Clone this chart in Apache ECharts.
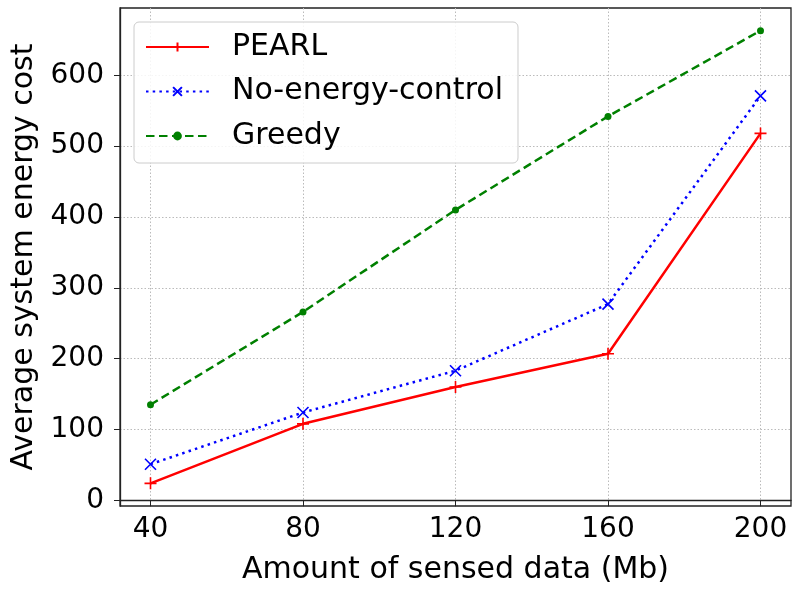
<!DOCTYPE html>
<html><head><meta charset="utf-8">
<script src="https://cdn.jsdelivr.net/npm/echarts@6/dist/echarts.min.js"></script>
<style>html,body{margin:0;padding:0;background:#fff}#c{width:794px;height:591px}</style>
</head><body><div id="c"></div>
<script>
const xValues = [40, 80, 120, 160, 200];
const pearl = [24, 108, 160, 207, 518];
const noEnergyControl = [51, 124, 183, 277, 571];
const greedy = [135, 266, 410, 542, 663];
const xTicks = [40, 80, 120, 160, 200];
const yTicks = [0, 100, 200, 300, 400, 500, 600];

const font = 'DejaVu Sans';
const chart = echarts.init(document.getElementById('c'), null, {renderer: 'canvas'});
const pairs = arr => xValues.map((x, i) => [x, arr[i]]);
chart.setOption({
  animation: false,
  backgroundColor: '#fff',
  grid: {left: 120, right: 3, top: 8, bottom: 85, show: true, borderColor: '#222', borderWidth: 1.3, backgroundColor: 'transparent'},
  legend: {
    left: 134, top: 22, orient: 'vertical',
    itemWidth: 63, itemHeight: 11, itemGap: 14.5,
    padding: [10, 15, 12, 11],
    backgroundColor: 'rgba(255,255,255,0.85)', borderColor: '#cccccc', borderWidth: 1, borderRadius: 5,
    textStyle: {fontFamily: font, fontSize: 30, lineHeight: 30, color: '#000', padding: [0, 0, 0, 18]},
    data: ['PEARL', 'No-energy-control', 'Greedy']
  },
  xAxis: {
    type: 'value', min: 32, max: 208,
    name: 'Amount of sensed data (Mb)', nameLocation: 'middle', nameGap: 49,
    nameTextStyle: {fontFamily: font, fontSize: 30, color: '#000'},
    axisLine: {show: true, lineStyle: {color: '#222', width: 1.3}},
    axisTick: {show: true, length: 6, inside: false, customValues: xTicks, lineStyle: {color: '#222', width: 1}},
    axisLabel: {customValues: xTicks, fontFamily: font, fontSize: 28, color: '#000', margin: 10},
    splitLine: {show: true, lineStyle: {color: '#bbbbbb', type: [1.5, 2], width: 1}}
  },
  yAxis: {
    type: 'value', min: -8, max: 695,
    name: 'Average system energy cost', nameLocation: 'middle', nameGap: 77,
    nameTextStyle: {fontFamily: font, fontSize: 30, color: '#000'},
    axisLine: {show: true, lineStyle: {color: '#222', width: 1.3}},
    axisTick: {show: true, length: 6, inside: false, customValues: yTicks, lineStyle: {color: '#222', width: 1}},
    axisLabel: {customValues: yTicks, fontFamily: font, fontSize: 28, color: '#000', margin: 16},
    splitLine: {show: true, lineStyle: {color: '#bbbbbb', type: [1.5, 2], width: 1}}
  },
  series: [
    {
      name: 'PEARL', type: 'line', data: pairs(pearl),
      symbol: 'path://M10,0 L10,20 M0,10 L20,10', symbolSize: 12,
      itemStyle: {color: 'none', borderColor: '#ff0000', borderWidth: 1.6},
      lineStyle: {color: '#ff0000', width: 2.5}, z: 3
    },
    {
      name: 'No-energy-control', type: 'line', data: pairs(noEnergyControl),
      symbol: 'path://M0,0 L20,20 M20,0 L0,20', symbolSize: 11,
      itemStyle: {color: 'none', borderColor: '#0000ff', borderWidth: 1.6},
      lineStyle: {color: '#0000ff', width: 2.5, type: [2.5, 4.2], cap: 'butt'}, z: 2
    },
    {
      name: 'Greedy', type: 'line', data: pairs(greedy),
      symbol: 'circle', symbolSize: 7,
      itemStyle: {color: '#008000', borderWidth: 0},
      lineStyle: {color: '#008000', width: 2.5, type: [8.5, 4.5]}, z: 1
    }
  ]
});
</script></body></html>
